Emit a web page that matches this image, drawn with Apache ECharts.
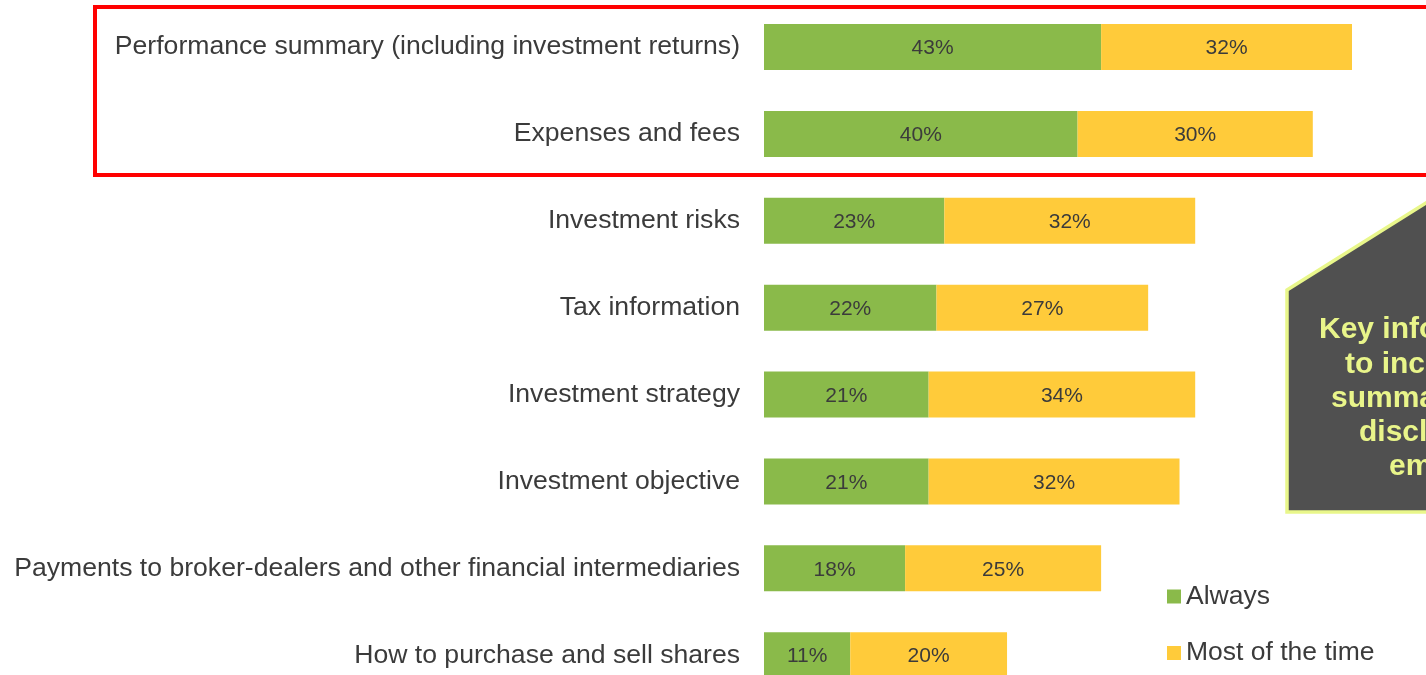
<!DOCTYPE html>
<html>
<head>
<meta charset="utf-8">
<script src="https://cdn.jsdelivr.net/npm/echarts@6/dist/echarts.min.js"></script>
<style>
  html, body { margin: 0; padding: 0; background: #fff; overflow: hidden; }
  /* the original chart is cropped on the right and bottom, so the canvas is bigger than the window */
  #main { width: 1560px; height: 710px; }
</style>
</head>
<body>
<div id="main"></div>
<script>
// categories top to bottom
const categories = [
  'Performance summary (including investment returns)',
  'Expenses and fees',
  'Investment risks',
  'Tax information',
  'Investment strategy',
  'Investment objective',
  'Payments to broker-dealers and other financial intermediaries',
  'How to purchase and sell shares'
];
const always = [43, 40, 23, 22, 21, 21, 18, 11];
const mostOfTheTime = [32, 30, 32, 27, 34, 32, 25, 20];
const seriesNames = ['Always', 'Most of the time'];
// callout text lines (cut off at the right edge in the original)
const calloutLines = ['Key information', 'to include in', 'summary', 'disclosure', 'emphasized'];
const calloutX = [1319, 1345, 1331, 1359, 1389];

const textColor = '#3b3b3b';
const green = '#8aba4a';
const yellow = '#ffcb3a';

const chart = echarts.init(document.getElementById('main'));

const calloutTexts = calloutLines.map((t, i) => ({
  type: 'text',
  left: calloutX[i],
  top: 315 + i * 34.3,
  z: 12,
  style: {
    text: t,
    fill: '#e9f58a',
    font: 'bold 30px "Liberation Sans", Arial, sans-serif'
  }
}));

const valueLabel = {
  show: true,
  position: 'inside',
  formatter: '{c}%',
  fontSize: 21,
  color: textColor,
  offset: [0, 1.5]
};

chart.setOption({
  animation: false,
  textStyle: { fontFamily: '"Liberation Sans", Arial, sans-serif' },
  grid: { left: 764, top: 3.6, width: 784, height: 695, containLabel: false },
  legend: {
    orient: 'vertical',
    left: 1167,
    top: 583,
    padding: 0,
    itemWidth: 14,
    itemHeight: 14,
    itemGap: 29.5,
    icon: 'rect',
    textStyle: { fontSize: 26.5, color: textColor },
    data: seriesNames
  },
  xAxis: {
    type: 'value',
    min: 0,
    max: 100,
    show: false
  },
  yAxis: {
    type: 'category',
    inverse: true,
    data: categories,
    axisLine: { show: false },
    axisTick: { show: false },
    axisLabel: { fontSize: 26.6, color: textColor, margin: 24, padding: [4, 0, 0, 0] }
  },
  series: [
    {
      name: seriesNames[0],
      type: 'bar',
      stack: 'total',
      barWidth: 46,
      data: always,
      itemStyle: { color: green },
      label: valueLabel
    },
    {
      name: seriesNames[1],
      type: 'bar',
      stack: 'total',
      barWidth: 46,
      data: mostOfTheTime,
      itemStyle: { color: yellow },
      label: valueLabel
    }
  ],
  graphic: [
    {
      type: 'rect',
      z: 10,
      shape: { x: 95, y: 7, width: 1420, height: 168 },
      style: { fill: 'none', stroke: '#ff0000', lineWidth: 4 }
    },
    {
      type: 'polygon',
      z: 11,
      shape: { points: [[1287, 512], [1287, 290], [1560, 119], [1560, 512]] },
      style: { fill: '#505050', stroke: '#e9f78b', lineWidth: 3.5 }
    }
  ].concat(calloutTexts)
});
</script>
</body>
</html>
